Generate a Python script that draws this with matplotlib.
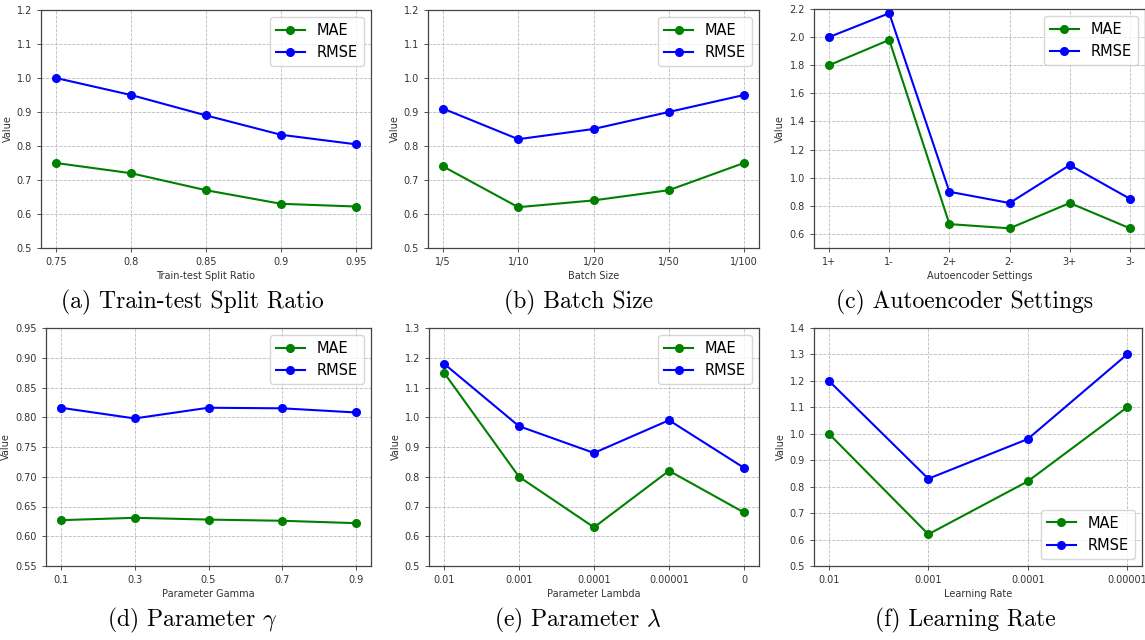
import matplotlib
matplotlib.use('Agg')
import matplotlib.pyplot as plt
import numpy as np

plt.rcParams['mathtext.fontset'] = 'cm'

# panel data
split_labels = ['0.75', '0.8', '0.85', '0.9', '0.95']
split_mae = [0.75, 0.72, 0.67, 0.63, 0.622]
split_rmse = [1.00, 0.95, 0.89, 0.833, 0.805]

batch_labels = ['1/5', '1/10', '1/20', '1/50', '1/100']
batch_mae = [0.74, 0.62, 0.64, 0.67, 0.75]
batch_rmse = [0.91, 0.82, 0.85, 0.90, 0.95]

ae_labels = ['1+', '1-', '2+', '2-', '3+', '3-']
ae_mae = [1.80, 1.98, 0.67, 0.64, 0.82, 0.64]
ae_rmse = [2.00, 2.17, 0.90, 0.82, 1.09, 0.85]

gamma_labels = ['0.1', '0.3', '0.5', '0.7', '0.9']
gamma_mae = [0.627, 0.631, 0.628, 0.626, 0.622]
gamma_rmse = [0.816, 0.798, 0.816, 0.815, 0.808]

lambda_labels = ['0.01', '0.001', '0.0001', '0.00001', '0']
lambda_mae = [1.15, 0.80, 0.63, 0.82, 0.68]
lambda_rmse = [1.18, 0.97, 0.88, 0.99, 0.83]

lr_labels = ['0.01', '0.001', '0.0001', '0.00001']
lr_mae = [1.00, 0.62, 0.82, 1.10]
lr_rmse = [1.20, 0.83, 0.98, 1.30]

# labels, mae, rmse, xlabel, caption, ylim, first tick, tick step, legend loc
panels = [
    (split_labels, split_mae, split_rmse, 'Train-test Split Ratio', '(a) Train-test Split Ratio',
     (0.5, 1.2), 0.5, 0.1, 'upper right'),
    (batch_labels, batch_mae, batch_rmse, 'Batch Size', '(b) Batch Size',
     (0.5, 1.2), 0.5, 0.1, 'upper right'),
    (ae_labels, ae_mae, ae_rmse, 'Autoencoder Settings', '(c) Autoencoder Settings',
     (0.5, 2.2), 0.6, 0.2, 'upper right'),
    (gamma_labels, gamma_mae, gamma_rmse, 'Parameter Gamma', r'(d) Parameter $\gamma$',
     (0.55, 0.95), 0.55, 0.05, 'upper right'),
    (lambda_labels, lambda_mae, lambda_rmse, 'Parameter Lambda', r'(e) Parameter $\lambda$',
     (0.5, 1.3), 0.5, 0.1, 'upper right'),
    (lr_labels, lr_mae, lr_rmse, 'Learning Rate', '(f) Learning Rate',
     (0.5, 1.4), 0.5, 0.1, 'lower right'),
]

# axes boxes in pixels: left, top, right, bottom
boxes = [
    (41, 10, 371, 248), (428, 10, 759, 248), (814, 9, 1145, 248),
    (46, 328, 371, 566), (429, 328, 759, 566), (814, 328, 1142, 566),
]
caption_pos = [(192, 302), (578, 302), (964, 302), (192, 620), (578, 620), (965, 620)]

W, H = 1145, 640
fig = plt.figure(figsize=(W / 100, H / 100), dpi=100)

for (labels, mae, rmse, xlabel, caption, ylim, y0, ystep, loc), (l, t, r, b), (cx, cy) in zip(panels, boxes, caption_pos):
    ax = fig.add_axes([l / W, 1 - b / H, (r - l) / W, (b - t) / H])
    x = range(len(labels))
    ax.plot(x, mae, color='green', marker='o', markersize=5.5, linewidth=1.5, label='MAE')
    ax.plot(x, rmse, color='blue', marker='o', markersize=5.5, linewidth=1.5, label='RMSE')
    ax.set_xticks(list(x))
    ax.set_xticklabels(labels)
    ax.set_ylim(*ylim)
    ticks = np.arange(y0, ylim[1] + ystep / 2, ystep)
    ax.set_yticks(ticks)
    fmt = '%.2f' if ystep < 0.1 else '%.1f'
    ax.set_yticklabels([fmt % v for v in ticks])
    ax.tick_params(labelsize=7, colors='#333333', length=3, width=0.6)
    ax.set_xlabel(xlabel, fontsize=7, color='#333333', labelpad=3)
    ax.set_ylabel('Value', fontsize=7, color='#333333', labelpad=3)
    ax.grid(True, linestyle='--', color='#bbbbbb', linewidth=0.6)
    for s in ax.spines.values():
        s.set_color('#444444')
        s.set_linewidth(0.9)
    ax.legend(loc=loc, fontsize=10.5, fancybox=True)
    fig.text(cx / W, 1 - cy / H, caption, fontsize=17, family='cmr10',
             ha='center', va='center')

fig.savefig('out.png', dpi=100)
